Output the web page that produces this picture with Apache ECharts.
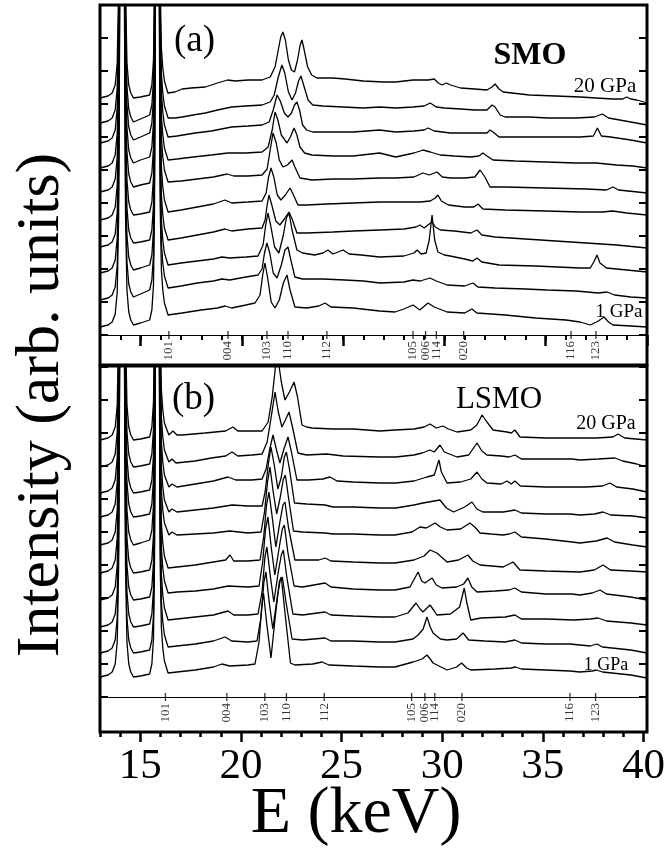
<!DOCTYPE html>
<html><head><meta charset="utf-8">
<script src="https://cdn.jsdelivr.net/npm/echarts@6/dist/echarts.min.js"></script>
<style>html,body{margin:0;padding:0;background:#fff}#c{width:668px;height:848px}</style>
</head><body><div id="c"></div>
<script>
// ---------------- data ----------------
const xMajor = [15, 20, 25, 30, 35, 40];
const hkl = ['101','004','103','110','112','105','006','114','020','116','123'];
const smoRefl  = [16.40, 19.32, 21.24, 22.28, 24.20, 28.45, 29.07, 29.60, 30.95, 36.25, 37.48];
const lsmoRefl = [16.25, 19.30, 21.19, 22.26, 24.14, 28.48, 29.14, 29.63, 30.98, 36.35, 37.62];

// SMO spectra (panel a), 1 GPa (bottom) ... 20 GPa (top); [E keV, intensity arb. units]
const SMO = [
 [[13.0,8],[13.4,10],[13.6,13],[13.75,21],[13.85,43],[13.92,118],[13.97,308],[14.0,600],[14.17,600],[14.21,310],[14.26,120],[14.33,45],[14.42,23],[14.52,15],[14.65,10],[15.0,12],[15.45,15],[15.56,25],[15.64,50],[15.69,125],[15.73,315],[15.76,600],[15.9,600],[15.93,320],[15.97,130],[16.03,65],[16.1,45],[16.18,32],[16.36,20],[17.05,22],[18.0,25],[18.8,27],[19.17,29],[19.5,27],[20.2,30],[20.65,32],[20.9,40],[21.03,60],[21.14,72],[21.27,58],[21.45,33],[21.64,27],[21.85,35],[22.05,52],[22.23,60],[22.38,45],[22.62,28],[23.2,27],[23.8,29],[24.11,32],[24.4,28],[25.5,27],[26.8,24],[27.56,23],[28.0,26],[28.45,30],[28.79,25],[29.19,32],[29.5,28],[30.13,23],[31.0,22],[31.36,26],[31.6,22],[33.0,20],[34.5,17],[36.0,15],[36.7,13],[37.2,10],[37.6,14],[37.88,18],[38.1,13],[38.32,10],[39.2,9],[40.0,8]],
 [[13.0,35],[13.4,37],[13.6,40],[13.75,48],[13.85,70],[13.92,145],[13.97,335],[14.0,600],[14.17,600],[14.21,338],[14.26,148],[14.33,73],[14.42,51],[14.52,43],[14.65,38],[15.0,41],[15.45,45],[15.56,55],[15.64,80],[15.69,155],[15.73,345],[15.76,600],[15.9,600],[15.93,347],[15.97,157],[16.03,92],[16.1,72],[16.18,59],[16.36,47],[17.0,49],[17.8,52],[18.6,54],[19.02,56],[19.4,55],[20.2,58],[20.8,60],[21.0,66],[21.12,82],[21.24,92],[21.38,82],[21.55,62],[21.74,57],[21.95,70],[22.13,85],[22.28,88],[22.42,75],[22.62,58],[23.0,56],[24.0,56],[25.09,55],[26.0,54],[26.82,52],[28.0,53],[28.45,55],[28.8,54],[29.29,57],[29.6,54],[30.13,50],[31.0,49],[31.41,52],[31.65,48],[32.5,47],[34.0,46],[35.06,45],[36.5,44],[37.6,42],[38.03,43],[38.4,40],[39.2,38],[40.0,37]],
 [[13.0,62],[13.4,64],[13.6,67],[13.75,75],[13.85,97],[13.92,172],[13.97,362],[14.0,600],[14.17,600],[14.21,365],[14.26,175],[14.33,100],[14.42,78],[14.52,70],[14.65,65],[15.0,67],[15.45,70],[15.56,80],[15.64,105],[15.69,180],[15.73,370],[15.76,600],[15.9,600],[15.93,370],[15.97,180],[16.03,115],[16.1,95],[16.18,82],[16.36,70],[17.0,72],[17.8,74],[18.6,76],[19.02,78],[19.4,77],[20.2,78],[20.8,79],[21.05,90],[21.18,110],[21.29,122],[21.42,110],[21.62,88],[21.83,82],[22.05,100],[22.2,117],[22.33,122],[22.48,105],[22.72,85],[23.0,82],[23.6,80],[24.0,82],[24.25,85],[24.5,81],[25.0,85],[25.3,81],[25.9,80],[26.8,78],[28.0,79],[28.5,82],[28.65,85],[28.85,81],[29.1,82],[29.25,95],[29.39,120],[29.52,95],[29.68,83],[30.0,80],[30.28,79],[31.0,76],[31.4,74],[31.61,77],[31.85,73],[32.7,70],[34.5,69],[36.7,67],[37.2,67],[37.4,74],[37.53,80],[37.68,72],[38.0,67],[39.0,65],[40.0,63]],
 [[13.0,88],[13.4,90],[13.6,93],[13.75,101],[13.85,123],[13.92,198],[13.97,388],[14.0,600],[14.17,600],[14.21,392],[14.26,202],[14.33,127],[14.42,105],[14.52,97],[14.65,92],[15.0,93],[15.45,95],[15.56,105],[15.64,130],[15.69,205],[15.73,395],[15.76,600],[15.9,600],[15.93,395],[15.97,205],[16.03,140],[16.1,120],[16.18,107],[16.36,95],[17.0,97],[17.8,100],[18.6,103],[19.17,106],[19.5,104],[20.3,106],[21.0,107],[21.15,115],[21.25,130],[21.34,140],[21.48,130],[21.68,114],[21.88,110],[22.1,116],[22.33,123],[22.5,115],[22.72,102],[23.2,102],[24.5,103],[25.5,104],[26.8,105],[28.0,106],[28.6,108],[28.79,110],[29.0,107],[29.25,111],[29.39,113],[29.55,108],[29.8,105],[30.5,104],[31.3,102],[31.61,105],[31.85,100],[32.5,98],[34.0,96],[35.5,94],[37.0,92],[38.5,90],[40.0,87]],
 [[13.0,115],[13.4,117],[13.6,120],[13.75,128],[13.85,150],[13.92,225],[13.97,415],[14.0,600],[14.17,600],[14.21,420],[14.26,230],[14.33,155],[14.42,133],[14.52,125],[14.65,120],[15.0,121],[15.45,123],[15.56,133],[15.64,158],[15.69,233],[15.73,423],[15.76,600],[15.9,600],[15.93,423],[15.97,233],[16.03,168],[16.1,148],[16.18,135],[16.36,123],[17.0,125],[17.8,128],[18.6,131],[19.17,135],[19.5,132],[20.3,133],[21.0,134],[21.2,142],[21.32,158],[21.44,167],[21.58,158],[21.75,140],[21.93,135],[22.15,140],[22.38,147],[22.55,140],[22.77,130],[23.2,130],[24.2,131],[25.5,132],[26.8,133],[28.0,133],[28.8,133],[29.3,134],[29.55,137],[29.68,140],[29.85,134],[30.2,130],[31.0,128],[31.45,128],[31.66,131],[31.9,126],[33.0,125],[35.0,124],[36.7,123],[37.8,123],[38.3,124],[39.0,122],[40.0,120]],
 [[13.0,143],[13.4,145],[13.6,148],[13.75,156],[13.85,178],[13.92,253],[13.97,443],[14.0,600],[14.17,600],[14.21,448],[14.26,258],[14.33,183],[14.42,161],[14.52,153],[14.65,148],[15.0,150],[15.45,152],[15.56,162],[15.64,187],[15.69,262],[15.73,452],[15.76,600],[15.9,600],[15.93,453],[15.97,263],[16.03,198],[16.1,178],[16.18,165],[16.36,153],[17.0,154],[17.8,156],[18.6,158],[19.27,161],[19.6,159],[20.3,159],[21.0,160],[21.25,166],[21.4,185],[21.54,202],[21.7,192],[21.85,175],[22.03,168],[22.25,170],[22.48,175],[22.62,168],[22.87,157],[23.46,155],[24.5,156],[25.5,156],[26.8,157],[27.6,157],[28.5,158],[28.94,162],[29.25,160],[29.63,163],[29.9,158],[30.3,157],[31.0,157],[31.5,158],[31.76,165],[32.0,158],[32.25,148],[33.0,148],[35.0,147],[37.0,146],[38.0,145],[38.32,148],[38.6,145],[40.0,142]],
 [[13.0,167],[13.4,169],[13.6,172],[13.75,180],[13.85,202],[13.92,277],[13.97,467],[14.0,600],[14.17,600],[14.21,472],[14.26,282],[14.33,207],[14.42,185],[14.52,177],[14.65,172],[15.0,175],[15.45,178],[15.56,188],[15.64,213],[15.69,288],[15.73,478],[15.76,600],[15.9,600],[15.93,475],[15.97,285],[16.03,220],[16.1,200],[16.18,187],[16.36,175],[16.8,176],[17.6,178],[18.5,180],[19.3,182],[20.2,182],[21.0,183],[21.3,188],[21.5,205],[21.64,223],[21.78,215],[21.95,200],[22.23,192],[22.4,198],[22.58,207],[22.72,200],[22.87,188],[23.1,182],[23.46,180],[24.5,179],[25.5,179],[26.8,182],[27.6,178],[28.5,182],[28.95,185],[29.3,183],[29.8,180],[30.5,179],[31.3,178],[31.7,179],[31.9,182],[32.1,179],[32.4,175],[33.5,174],[35.0,173],[36.5,172],[37.5,172],[38.5,170],[39.3,169],[40.0,167]],
 [[13.0,192],[13.4,194],[13.6,197],[13.75,205],[13.85,227],[13.92,302],[13.97,492],[14.0,600],[14.17,600],[14.21,495],[14.26,305],[14.33,230],[14.42,208],[14.52,200],[14.65,195],[15.0,198],[15.45,202],[15.56,212],[15.64,237],[15.69,312],[15.73,502],[15.76,600],[15.9,600],[15.93,498],[15.97,308],[16.03,243],[16.1,223],[16.18,210],[16.36,198],[16.8,199],[17.7,202],[18.5,204],[19.5,208],[20.3,209],[21.0,210],[21.35,213],[21.55,225],[21.74,240],[21.9,234],[22.1,222],[22.28,218],[22.45,222],[22.6,230],[22.72,233],[22.85,225],[23.0,210],[23.2,205],[23.5,203],[24.5,203],[25.5,203],[26.8,205],[27.6,203],[28.5,204],[29.0,205],[29.2,207],[29.5,204],[29.9,203],[30.3,202],[31.5,202],[32.1,202],[32.25,205],[32.4,203],[32.7,198],[33.5,198],[35.0,198],[36.7,198],[37.35,199],[37.55,207],[37.75,199],[38.2,198],[39.2,195],[40.0,192]],
 [[13.0,212],[13.4,214],[13.6,217],[13.75,225],[13.85,247],[13.92,322],[13.97,512],[14.0,600],[14.17,600],[14.21,513],[14.26,323],[14.33,248],[14.42,226],[14.52,218],[14.65,213],[15.0,216],[15.45,220],[15.56,230],[15.64,255],[15.69,330],[15.73,520],[15.76,600],[15.9,600],[15.93,517],[15.97,327],[16.03,262],[16.1,242],[16.18,229],[16.36,217],[16.7,217],[17.05,218],[17.6,220],[18.2,222],[18.8,225],[19.5,228],[20.2,229],[21.0,230],[21.4,233],[21.6,240],[21.8,258],[21.98,270],[22.12,262],[22.3,243],[22.48,235],[22.65,242],[22.8,254],[22.92,259],[23.05,250],[23.27,235],[23.5,230],[24.0,229],[25.0,228],[26.0,227],[26.8,228],[27.6,227],[28.45,228],[29.0,229],[29.3,232],[29.6,228],[30.0,227],[30.8,226],[31.5,225],[32.1,225],[32.35,230],[32.5,228],[32.75,220],[33.0,218],[34.2,218],[35.1,217],[36.5,217],[37.4,218],[37.8,221],[38.1,217],[39.2,213],[40.0,210]],
 [[13.0,237],[13.4,239],[13.6,242],[13.75,250],[13.85,272],[13.92,347],[13.97,537],[14.0,600],[14.17,600],[14.21,537],[14.26,347],[14.33,272],[14.42,250],[14.52,242],[14.65,237],[15.0,238],[15.45,240],[15.56,250],[15.64,275],[15.69,350],[15.73,540],[15.76,600],[15.9,600],[15.93,542],[15.97,352],[16.03,287],[16.1,267],[16.18,254],[16.35,242],[16.7,243],[17.05,246],[17.5,247],[18.2,248],[18.8,252],[19.3,255],[19.7,254],[20.3,255],[21.0,255],[21.4,258],[21.64,268],[21.8,285],[21.92,298],[22.03,303],[22.15,295],[22.3,275],[22.45,265],[22.6,263],[22.75,275],[22.88,290],[22.97,295],[23.08,285],[23.25,268],[23.45,260],[23.7,257],[24.5,257],[25.1,256],[26.0,254],[27.0,253],[27.6,253],[28.45,255],[29.2,255],[29.5,256],[29.7,252],[29.88,250],[30.1,252],[30.3,250],[30.8,247],[31.5,246],[32.1,245],[32.35,248],[32.5,251],[32.7,246],[32.9,243],[34.2,240],[35.5,239],[36.7,238],[37.5,237],[38.3,236],[38.8,236],[39.0,238],[39.2,236],[39.5,235],[40.0,232]]
];

// LSMO spectra (panel b), 1 GPa (bottom) ... 20 GPa (top)
const LSMO = [
 [[13.0,20],[13.4,22],[13.6,25],[13.75,33],[13.85,55],[13.92,130],[13.97,320],[14.0,600],[14.17,600],[14.21,320],[14.26,130],[14.33,55],[14.42,33],[14.52,25],[14.65,20],[15.0,21],[15.45,23],[15.56,33],[15.64,58],[15.69,133],[15.73,323],[15.76,600],[15.9,600],[15.93,324],[15.97,134],[16.03,69],[16.1,49],[16.18,36],[16.36,24],[16.8,25],[17.7,27],[18.6,30],[19.02,33],[19.4,31],[20.3,32],[20.65,33],[20.85,55],[20.98,90],[21.07,104],[21.22,75],[21.44,39],[21.65,80],[21.85,115],[21.95,120],[22.1,90],[22.4,34],[22.62,32],[23.5,33],[23.96,35],[24.3,32],[25.5,31],[26.8,30],[27.56,30],[28.45,35],[28.9,38],[29.14,42],[29.3,38],[29.44,34],[30.13,27],[30.6,30],[30.85,34],[31.1,29],[31.3,27],[32.5,28],[33.3,29],[33.5,30],[33.8,28],[35.0,27],[36.2,26],[36.69,25],[37.3,26],[37.5,27],[37.8,25],[39.2,22],[40.0,19]],
 [[13.0,44],[13.4,46],[13.6,49],[13.75,57],[13.85,79],[13.92,154],[13.97,344],[14.0,600],[14.17,600],[14.21,344],[14.26,154],[14.33,79],[14.42,57],[14.52,49],[14.65,44],[15.0,45],[15.45,47],[15.56,57],[15.64,82],[15.69,157],[15.73,347],[15.76,600],[15.9,600],[15.93,350],[15.97,160],[16.03,95],[16.1,75],[16.18,62],[16.36,50],[16.8,51],[17.7,53],[18.6,56],[19.17,60],[19.5,56],[20.3,55],[20.75,56],[20.95,80],[21.09,115],[21.19,125],[21.35,95],[21.53,68],[21.75,100],[21.9,117],[22.0,120],[22.18,95],[22.48,58],[23.0,57],[24.11,59],[24.4,56],[25.5,56],[26.8,55],[27.56,55],[28.45,58],[28.7,62],[28.95,68],[29.14,80],[29.3,70],[29.44,64],[29.8,58],[30.13,57],[30.6,58],[30.92,64],[31.2,57],[32.0,56],[33.0,55],[33.48,57],[33.8,54],[35.0,53],[36.2,53],[36.69,52],[37.2,51],[37.53,53],[37.8,50],[39.2,47],[40.0,44]],
 [[13.0,70],[13.4,72],[13.6,75],[13.75,83],[13.85,105],[13.92,180],[13.97,370],[14.0,600],[14.17,600],[14.21,370],[14.26,180],[14.33,105],[14.42,83],[14.52,75],[14.65,70],[15.0,71],[15.45,73],[15.56,83],[15.64,108],[15.69,183],[15.73,373],[15.76,600],[15.9,600],[15.93,377],[15.97,187],[16.03,122],[16.1,102],[16.18,89],[16.36,77],[16.8,78],[17.7,80],[18.6,82],[19.32,86],[19.6,82],[20.3,82],[20.8,83],[21.0,105],[21.14,140],[21.24,150],[21.4,122],[21.58,95],[21.8,125],[21.95,142],[22.05,147],[22.22,120],[22.52,83],[23.0,82],[24.11,85],[24.4,82],[25.5,81],[26.8,80],[27.56,80],[28.2,84],[28.6,94],[28.8,88],[28.94,85],[29.29,92],[29.5,86],[29.63,82],[30.3,83],[30.75,90],[30.98,109],[31.1,95],[31.3,77],[31.8,79],[33.0,80],[33.48,82],[33.8,78],[35.0,78],[36.4,77],[37.2,78],[37.58,79],[38.0,76],[39.2,74],[40.0,72]],
 [[13.0,97],[13.4,99],[13.6,102],[13.75,110],[13.85,132],[13.92,207],[13.97,397],[14.0,600],[14.17,600],[14.21,397],[14.26,207],[14.33,132],[14.42,110],[14.52,102],[14.65,97],[15.0,98],[15.45,100],[15.56,110],[15.64,135],[15.69,210],[15.73,400],[15.76,600],[15.9,600],[15.93,404],[15.97,214],[16.03,149],[16.1,129],[16.18,116],[16.36,104],[16.8,105],[17.7,106],[18.6,108],[19.32,111],[20.3,110],[20.85,111],[21.03,135],[21.17,168],[21.29,180],[21.45,150],[21.63,122],[21.85,150],[22.0,168],[22.1,172],[22.27,145],[22.58,111],[23.0,110],[24.11,114],[24.4,110],[25.5,108],[26.8,107],[27.56,107],[28.3,110],[28.7,125],[28.88,116],[29.04,114],[29.39,119],[29.6,112],[29.88,109],[30.6,110],[30.95,113],[31.16,119],[31.35,110],[31.61,105],[32.5,106],[33.2,107],[33.48,109],[33.8,105],[35.0,103],[36.3,103],[36.69,102],[37.3,104],[37.68,107],[38.0,103],[39.2,100],[40.0,97]],
 [[13.0,124],[13.4,126],[13.6,129],[13.75,137],[13.85,159],[13.92,234],[13.97,424],[14.0,600],[14.17,600],[14.21,424],[14.26,234],[14.33,159],[14.42,137],[14.52,129],[14.65,124],[15.0,125],[15.45,127],[15.56,137],[15.64,162],[15.69,237],[15.73,427],[15.76,600],[15.9,600],[15.93,429],[15.97,239],[16.03,174],[16.1,154],[16.18,141],[16.36,129],[16.8,130],[17.7,132],[18.6,135],[19.2,137],[19.42,142],[19.6,136],[20.3,136],[20.9,137],[21.08,160],[21.22,192],[21.34,205],[21.5,180],[21.68,150],[21.88,175],[22.03,192],[22.13,195],[22.3,170],[22.62,137],[23.2,137],[23.8,137],[24.11,139],[24.4,136],[25.5,135],[26.8,134],[27.56,134],[28.5,137],[29.0,141],[29.29,147],[29.63,144],[30.13,135],[30.7,137],[31.16,142],[31.4,136],[31.76,132],[32.9,130],[33.39,135],[33.73,127],[35.0,126],[36.69,125],[37.4,127],[37.83,132],[38.2,127],[39.2,126],[40.0,125]],
 [[13.0,152],[13.4,154],[13.6,157],[13.75,165],[13.85,187],[13.92,262],[13.97,452],[14.0,600],[14.17,600],[14.21,452],[14.26,262],[14.33,187],[14.42,165],[14.52,157],[14.65,152],[15.0,154],[15.45,157],[15.56,167],[15.64,192],[15.69,267],[15.73,457],[15.76,600],[15.9,600],[15.93,462],[15.97,272],[16.03,207],[16.1,187],[16.18,174],[16.4,162],[16.55,165],[16.8,162],[17.7,163],[18.6,164],[19.4,166],[20.3,164],[20.95,165],[21.12,185],[21.27,215],[21.39,230],[21.55,205],[21.72,183],[21.9,200],[22.05,218],[22.15,222],[22.3,200],[22.55,166],[23.0,165],[24.11,164],[24.5,163],[25.5,163],[26.8,162],[27.56,162],[28.4,165],[28.79,170],[29.1,169],[29.54,174],[29.8,170],[30.13,167],[30.8,168],[31.26,174],[31.5,170],[31.76,164],[32.3,163],[32.89,162],[33.2,163],[33.48,165],[33.8,160],[35.0,158],[36.3,155],[36.69,154],[37.5,156],[38.03,159],[38.4,155],[39.3,152],[40.0,150]],
 [[13.0,180],[13.4,182],[13.6,185],[13.75,193],[13.85,215],[13.92,290],[13.97,480],[14.0,600],[14.17,600],[14.21,480],[14.26,290],[14.33,215],[14.42,193],[14.52,185],[14.65,180],[15.0,181],[15.45,183],[15.56,193],[15.64,218],[15.69,293],[15.73,483],[15.76,600],[15.9,600],[15.93,485],[15.97,295],[16.03,230],[16.1,210],[16.18,197],[16.4,185],[16.55,188],[16.8,185],[17.7,187],[18.6,189],[19.52,192],[20.3,191],[21.0,191],[21.15,205],[21.32,235],[21.44,250],[21.6,232],[21.78,208],[21.95,220],[22.1,240],[22.2,245],[22.35,228],[22.6,194],[23.2,193],[24.11,192],[24.5,190],[25.5,190],[26.8,189],[27.6,189],[28.5,192],[28.94,194],[29.5,196],[29.78,197],[30.1,189],[30.45,185],[31.0,190],[31.36,195],[31.6,188],[31.9,185],[32.9,185],[33.48,187],[33.8,184],[35.0,183],[36.2,183],[36.69,182],[37.4,183],[37.83,185],[38.2,182],[39.3,181],[40.0,179]],
 [[13.0,204],[13.4,206],[13.6,209],[13.75,217],[13.85,239],[13.92,314],[13.97,504],[14.0,600],[14.17,600],[14.21,504],[14.26,314],[14.33,239],[14.42,217],[14.52,209],[14.65,204],[15.0,205],[15.45,207],[15.56,217],[15.64,242],[15.69,317],[15.73,507],[15.76,600],[15.9,600],[15.93,510],[15.97,320],[16.03,255],[16.1,235],[16.18,222],[16.4,210],[16.55,213],[16.8,210],[17.7,213],[18.6,216],[19.32,220],[19.7,217],[20.5,217],[21.0,218],[21.2,228],[21.38,248],[21.54,262],[21.7,248],[21.88,234],[22.08,248],[22.28,260],[22.45,245],[22.72,217],[23.3,217],[24.0,218],[24.35,220],[24.7,216],[25.5,215],[26.8,214],[27.6,214],[28.5,216],[29.14,220],[29.5,222],[29.62,230],[29.73,237],[29.85,225],[30.13,214],[30.8,215],[31.3,218],[31.61,225],[31.85,218],[32.1,214],[32.8,213],[33.09,216],[33.3,213],[33.48,216],[33.75,211],[35.0,210],[36.3,210],[37.0,210],[37.8,211],[38.17,214],[38.5,210],[39.3,208],[40.0,205]],
 [[13.0,230],[13.4,232],[13.6,235],[13.75,243],[13.85,265],[13.92,340],[13.97,530],[14.0,600],[14.17,600],[14.21,530],[14.26,340],[14.33,265],[14.42,243],[14.52,235],[14.65,230],[15.0,231],[15.45,233],[15.56,243],[15.64,268],[15.69,343],[15.73,533],[15.76,600],[15.9,600],[15.93,535],[15.97,345],[16.03,280],[16.1,260],[16.18,247],[16.4,235],[16.55,238],[16.75,234],[17.69,236],[18.5,239],[19.2,241],[19.52,245],[19.8,241],[20.5,242],[21.0,243],[21.25,255],[21.45,280],[21.64,305],[21.8,285],[21.98,270],[22.15,277],[22.33,285],[22.5,270],[22.77,244],[23.2,242],[24.2,243],[25.0,241],[26.8,240],[27.6,240],[28.5,242],[28.9,244],[29.29,247],[29.5,245],[29.78,252],[30.0,245],[30.62,240],[31.2,242],[31.61,254],[31.85,246],[32.1,242],[32.8,241],[33.2,240],[33.48,242],[33.8,238],[35.0,238],[36.3,238],[36.69,237],[37.6,238],[38.42,239],[38.8,236],[39.5,233],[40.0,230]],
 [[13.0,257],[13.4,259],[13.6,262],[13.75,270],[13.85,292],[13.92,367],[13.97,557],[14.0,600],[14.17,600],[14.21,557],[14.26,367],[14.33,292],[14.42,270],[14.52,262],[14.65,257],[15.0,258],[15.45,260],[15.56,270],[15.64,295],[15.69,370],[15.73,560],[15.76,600],[15.9,600],[15.93,562],[15.97,372],[16.03,307],[16.1,287],[16.18,274],[16.4,262],[16.6,266],[16.8,262],[17.05,262],[18.18,264],[19.2,266],[19.56,270],[19.8,266],[20.5,266],[21.0,266],[21.3,275],[21.5,300],[21.74,345],[21.95,315],[22.13,297],[22.35,305],[22.58,315],[22.75,300],[22.97,272],[23.2,270],[23.46,269],[24.5,268],[25.5,268],[26.82,266],[27.56,267],[28.5,268],[29.0,270],[29.29,273],[29.6,269],[29.93,271],[30.2,268],[30.62,265],[31.3,267],[31.6,272],[31.86,282],[32.1,275],[32.4,267],[33.09,265],[33.3,264],[33.48,267],[33.73,260],[35.0,259],[36.5,259],[37.5,259],[38.32,260],[38.57,263],[38.9,259],[40.0,257]]
];

// ---------------- chart ----------------
const FONT = "'Liberation Serif','Times New Roman',serif";
const L = 100, R = 21;
const chart = echarts.init(document.getElementById('c'), null, {renderer: 'canvas'});

const hidden = {show: false};
function plainX(grid, extra) {
  return Object.assign({type: 'value', gridIndex: grid, min: 13, max: 40,
    axisLine: hidden, axisTick: hidden, axisLabel: hidden, splitLine: hidden}, extra || {});
}
function plainY(grid, extra) {
  return Object.assign({type: 'value', gridIndex: grid,
    axisLine: hidden, axisTick: hidden, axisLabel: hidden, splitLine: hidden}, extra || {});
}
const tickY = (grid, pos) => plainY(grid, {position: pos, min: 0, max: 330, interval: 33,
  axisTick: {show: true, inside: true, length: 8, lineStyle: {color: '#000', width: 2}}});

const xAxis = [
  plainX(0, {position: 'top', interval: 1, axisTick: {show: true, inside: true, length: 5, lineStyle: {color: '#000', width: 2}}}),
  plainX(0, {position: 'top', axisTick: {show: true, inside: true, length: 11, customValues: xMajor, lineStyle: {color: '#000', width: 2.5}}}),
  plainX(1, {position: 'top', axisLine: {show: true, lineStyle: {color: '#000', width: 1.2}}}),
  plainX(2),
  plainX(3, {position: 'top', axisLine: {show: true, lineStyle: {color: '#000', width: 1.2}}}),
  plainX(3, {position: 'bottom', interval: 1, axisTick: {show: true, inside: false, length: 5, lineStyle: {color: '#000', width: 2.5}}}),
  plainX(3, {position: 'bottom',
    axisTick: {show: true, inside: false, length: 10, customValues: xMajor, lineStyle: {color: '#000', width: 2.5}},
    axisLabel: {show: true, customValues: xMajor, fontSize: 43, fontFamily: FONT, color: '#000', margin: 13}}),
  plainX(4), plainX(5)
];
const yAxis = [
  tickY(0, 'left'), tickY(0, 'right'),
  plainY(1, {min: -1, max: 0}),
  tickY(2, 'left'), tickY(2, 'right'),
  plainY(3, {min: -1, max: 0}),
  plainY(4, {min: 0, max: 1}), plainY(5, {min: 0, max: 1})
];
const grid = [
  {left: L, right: R, top: 5, height: 330},
  {left: L, right: R, top: 335, height: 30},
  {left: L, right: R, top: 367, height: 330},
  {left: L, right: R, top: 697, height: 35},
  {left: L, right: R, top: 5, height: 360, show: true, borderColor: '#000', borderWidth: 3, backgroundColor: 'transparent'},
  {left: L, right: R, top: 366, height: 366, show: true, borderColor: '#000', borderWidth: 3, backgroundColor: 'transparent'}
];

const series = [];
function addSpectra(list, xi, yi) {
  list.forEach(d => series.push({type: 'line', xAxisIndex: xi, yAxisIndex: yi, data: d,
    symbol: 'none', showSymbol: false, clip: true, silent: true,
    lineStyle: {color: '#000', width: 1.3}}));
}
addSpectra(SMO, 0, 0);
addSpectra(LSMO, 3, 3);
function addRefl(pos, xi, yi) {
  series.push({type: 'scatter', xAxisIndex: xi, yAxisIndex: yi, clip: false, silent: true,
    data: pos.map(p => [p, 0]), symbol: 'rect', symbolSize: [1.3, 8],
    itemStyle: {color: '#000'},
    label: {show: true, formatter: p => hkl[p.dataIndex], rotate: 90, position: [0.65, 10],
      align: 'right', verticalAlign: 'middle', fontSize: 13, fontFamily: FONT, color: '#000'}});
}
addRefl(smoRefl, 2, 2);
addRefl(lsmoRefl, 4, 5);
series.push({type: 'line', xAxisIndex: 7, yAxisIndex: 6, data: [], silent: true});
series.push({type: 'line', xAxisIndex: 8, yAxisIndex: 7, data: [], silent: true});

const txt = (text, x, y, font, align) => ({type: 'text', x, y, silent: true,
  style: {text, font: font, fill: '#000', textAlign: align || 'center', textVerticalAlign: 'middle'}});

chart.setOption({
  animation: false,
  backgroundColor: '#fff',
  grid, xAxis, yAxis, series,
  graphic: [
    txt('(a)', 174, 41, '37px ' + FONT, 'left'),
    txt('(b)', 172, 399, '37px ' + FONT, 'left'),
    txt('SMO', 530, 56, 'bold 32px ' + FONT),
    txt('LSMO', 499, 400, '31px ' + FONT),
    txt('20 GPa', 605, 86, '21px ' + FONT),
    txt('1 GPa', 619, 312, '19px ' + FONT),
    txt('20 GPa', 606, 424, '20px ' + FONT),
    txt('1 GPa', 606, 665, '18px ' + FONT),
    txt('E (keV)', 356, 815, '66px ' + FONT),
    {type: 'text', x: 42, y: 405, rotation: Math.PI / 2, silent: true,
      style: {text: 'Intensity (arb. units)', font: '62px ' + FONT, fill: '#000', textAlign: 'center', textVerticalAlign: 'middle'}}
  ]
});
</script></body></html>
